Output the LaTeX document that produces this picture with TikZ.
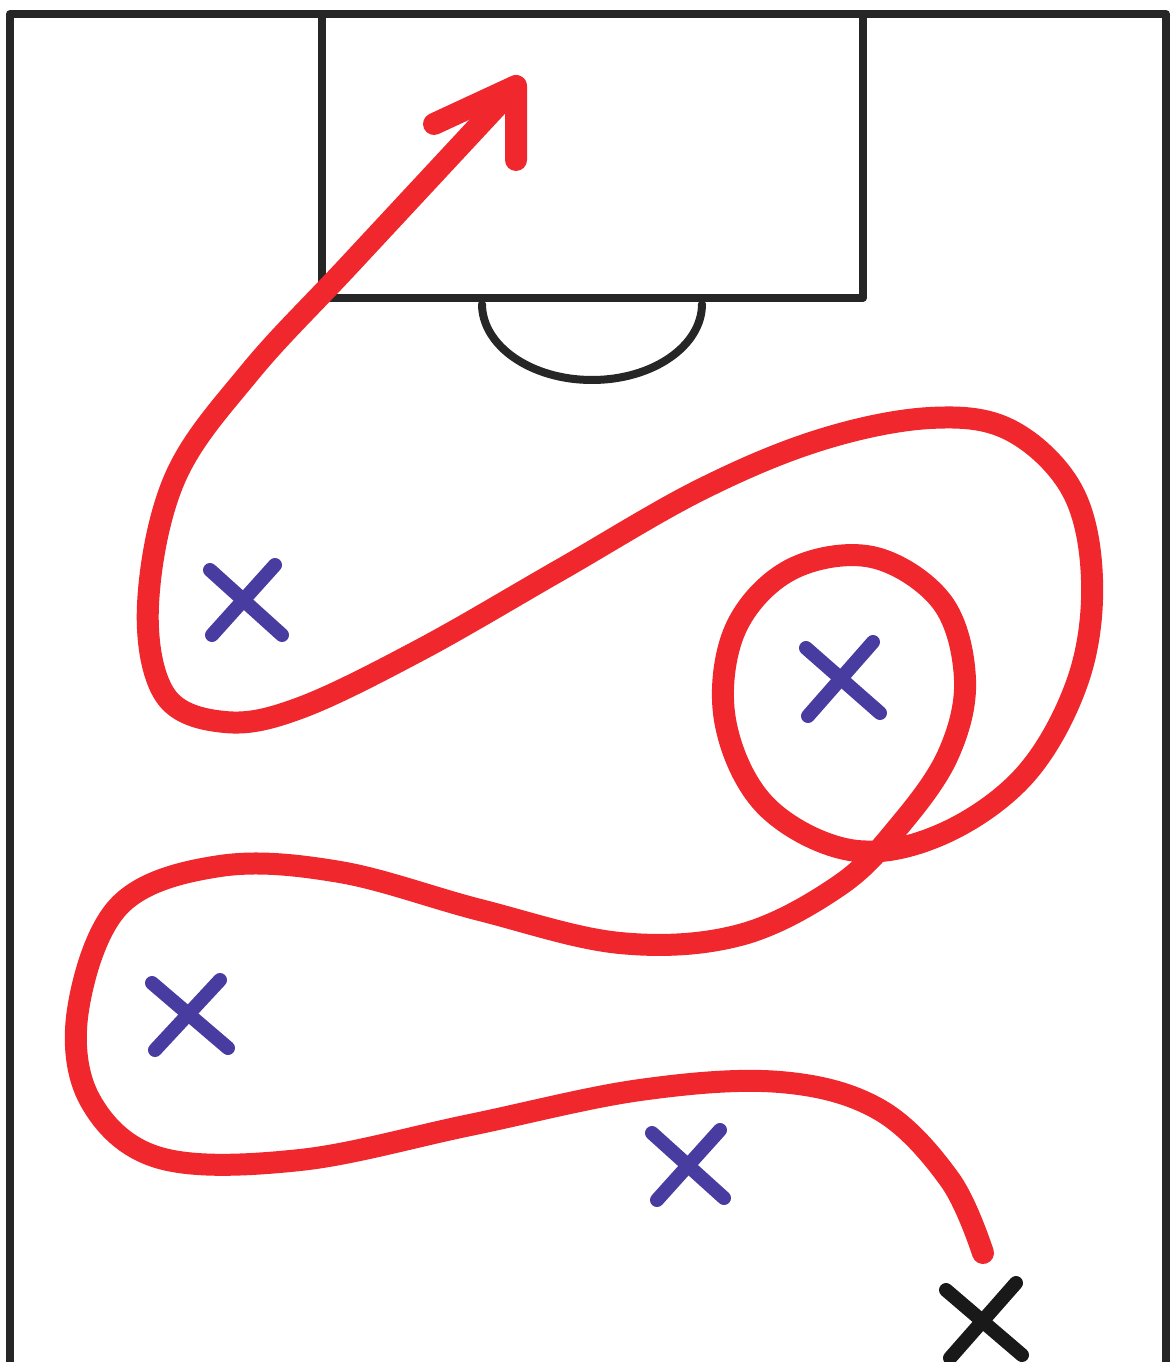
\documentclass[tikz,border=0pt]{standalone}
\begin{document}
\begin{tikzpicture}[x=1pt,y=-1pt,
  chalk/.style={line width=8pt,draw=black!85,line cap=round,line join=round},
  runpath/.style={line width=22pt,draw={rgb,255:red,240;green,40;blue,45},line cap=round,line join=round},
  bluex/.style={line width=14pt,draw={rgb,255:red,72;green,60;blue,160},line cap=round},
  blackx/.style={line width=14pt,draw=black!90,line cap=round}]
\fill[white] (0,0) rectangle (1175,1362);
\useasboundingbox (0,0) rectangle (1175,1362);
% field border
\draw[chalk] (10,1362) -- (10,14) -- (1166,14) -- (1166,1362);
% penalty box
\draw[chalk] (322,14) -- (322,298) -- (863,298) -- (863,14);
% arc
\draw[chalk] (482,304) arc[start angle=180,end angle=0,x radius=110,y radius=76];
% red run
\draw[runpath] plot[smooth,tension=0.6] coordinates {
 (983,1253) (950,1180) (880,1110) (780,1082) (640,1090) (470,1125) (300,1160) (160,1158)
 (90,1100) (78,1010) (120,905) (220,866) (340,872) (480,910) (620,943) (740,935) (840,885)
 (900,825) (948,755) (965,680) (942,602) (872,557) (790,570) (735,630) (725,720) (765,805)
 (850,850) (940,835) (1025,775) (1078,680) (1092,580) (1072,490) (1010,430) (930,418) (820,440) (700,490)
 (560,570) (420,650) (300,708) (225,722) (165,695) (148,605) (175,478) (250,372) (352,262) (512,90)};
\draw[runpath] (434,124) -- (516,86) -- (516,160);
% blue players
\draw[bluex] (210,570) -- (282,635);
\draw[bluex] (275,565) -- (212,635);
\draw[bluex] (806,648) -- (880,713);
\draw[bluex] (873,642) -- (808,716);
\draw[bluex] (152,983) -- (228,1048);
\draw[bluex] (220,980) -- (155,1050);
\draw[bluex] (652,1133) -- (724,1198);
\draw[bluex] (720,1130) -- (657,1200);
% black player
\draw[blackx] (946,1290) -- (1022,1355);
\draw[blackx] (1016,1283) -- (950,1358);
\end{tikzpicture}
\end{document}
